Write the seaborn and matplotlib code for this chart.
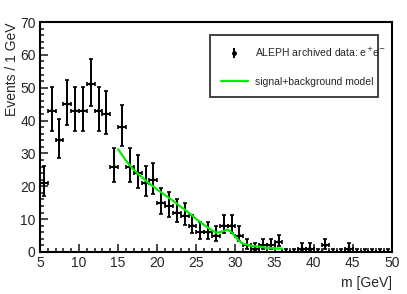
import numpy as np
import pandas as pd
import matplotlib
matplotlib.use("Agg")
import matplotlib.pyplot as plt
from matplotlib.ticker import MultipleLocator
from matplotlib.lines import Line2D
import seaborn as sns

# binned data, 1 GeV bins from 5 to 50
bin_centers = np.arange(5.5, 50.0, 1.0)
counts = [21, 43, 34, 45, 43, 43, 51, 43, 42, 26,
          38, 26, 24, 21, 22, 15, 14, 12, 11, 8,
          6, 6, 5, 8, 8, 5, 2, 1, 2, 2,
          3, 0, 0, 1, 1, 0, 2, 0, 0, 1,
          0, 0, 0, 0, 0]

# fitted model curve
model_m = [15, 16, 17, 18, 19, 20, 21, 22, 23, 24, 25, 26, 27, 27.5,
           28, 28.5, 29, 29.5, 30, 30.5, 31, 32, 33, 34, 35, 36]
model_y = [31.3, 27.8, 25.0, 22.8, 20.8, 19.0, 17.3, 15.6, 13.8, 12.0, 10.0, 8.2, 6.6, 5.9,
           6.0, 6.4, 6.8, 6.0, 4.6, 3.3, 2.5, 1.9, 1.6, 1.3, 1.1, 1.0]

data = pd.DataFrame({"m": bin_centers, "n": counts})
model = pd.DataFrame({"m": model_m, "y": model_y})

# approximate Poisson intervals
n = data["n"].to_numpy(dtype=float)
lo = n + 0.5 - np.sqrt(n + 0.25)
hi = n + 0.5 + np.sqrt(n + 0.25)
yerr = [n - lo, hi - n]

sns.set_style("ticks")
plt.rcParams['font.family'] = ['Liberation Sans', 'DejaVu Sans']

fig = plt.figure(figsize=(4.07, 2.94), dpi=100)
ax = fig.add_axes([0.098, 0.143, 0.865, 0.782])

ax.errorbar(data["m"], data["n"], xerr=0.5, yerr=yerr, fmt='none',
            ecolor='black', elinewidth=1.4, capsize=1.6, capthick=1.2, zorder=2)
sns.scatterplot(data=data, x="m", y="n", ax=ax, color='black', s=6,
                edgecolor='none', zorder=3, legend=False)
sns.lineplot(data=model, x="m", y="y", ax=ax, color='#00ee00', linewidth=1.6,
             zorder=4, legend=False)

ax.set_xlim(5, 50)
ax.set_ylim(0, 70)
ax.xaxis.set_major_locator(MultipleLocator(5))
ax.xaxis.set_minor_locator(MultipleLocator(1))
ax.yaxis.set_major_locator(MultipleLocator(10))
ax.yaxis.set_minor_locator(MultipleLocator(2))
ax.tick_params(which='both', direction='in', labelsize=10, width=1.2, pad=3)
ax.tick_params(which='major', length=6)
ax.tick_params(which='minor', length=3)
for s in ax.spines.values():
    s.set_linewidth(1.5)
    s.set_color('black')

ax.set_xlabel("m [GeV]", loc='right', fontsize=10)
ax.set_ylabel("Events / 1 GeV", loc='top', fontsize=10)
ax.yaxis.set_label_coords(-0.058, 1.0)

line_handle = Line2D([0], [0], color='#00ee00', linewidth=1.6)
eb = ax.errorbar([], [], yerr=[], fmt='o', color='black', markersize=2.5,
                 elinewidth=1.4, capsize=0)
leg = ax.legend([eb, line_handle],
                [r"ALEPH archived data: e$^{\!+}\!$e$^{\!-}$", "signal+background model"],
                loc='upper left', bbox_to_anchor=(0.469, 0.965, 0.505, 0.0),
                mode='expand', fontsize=7.5, frameon=True, fancybox=False,
                edgecolor='black', borderpad=1.0, labelspacing=1.7,
                handlelength=2.6, handletextpad=0.7)
leg.get_frame().set_linewidth(1.3)

fig.savefig("out.png", dpi=100)
